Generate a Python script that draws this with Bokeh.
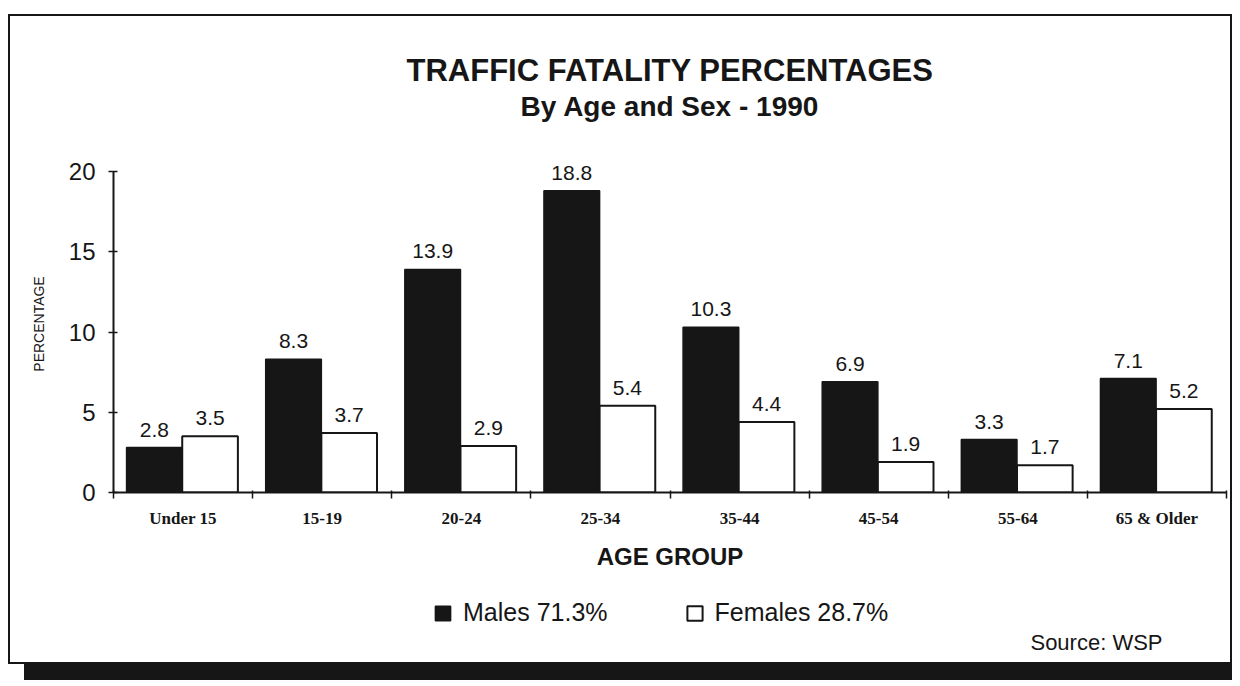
from bokeh.plotting import figure
from bokeh.layouts import column
from bokeh.models import (ColumnDataSource, FixedTicker, LabelSet, Label, Legend,
                          LegendItem, Title, Range1d)
from bokeh.core.properties import value
from bokeh.transform import dodge
from bokeh.embed import file_html
from bokeh.resources import INLINE

# ---- data ----
age_groups = ["Under 15", "15-19", "20-24", "25-34", "35-44", "45-54", "55-64", "65 & Older"]
males = [2.8, 8.3, 13.9, 18.8, 10.3, 6.9, 3.3, 7.1]
females = [3.5, 3.7, 2.9, 5.4, 4.4, 1.9, 1.7, 5.2]
y_ticks = [0, 5, 10, 15, 20]
legend_labels = ["Males 71.3%", "Females 28.7%"]
title_line1 = "TRAFFIC FATALITY PERCENTAGES"
title_line2 = "By Age and Sex - 1990"
source_note = "Source: WSP"

INK = "#161616"
SANS = "Liberation Sans"

centers = [i + 0.5 for i in range(len(age_groups))]
bounds = list(range(len(age_groups) + 1))
src = ColumnDataSource(dict(
    x=centers, group=age_groups, males=males, females=females,
    males_txt=[f"{v:.1f}" for v in males],
    females_txt=[f"{v:.1f}" for v in females],
))

p = figure(width=1220, height=574,
           x_range=Range1d(0, len(age_groups)), y_range=Range1d(0, 21),
           output_backend="svg", toolbar_location=None,
           min_border_left=103, min_border_right=4,
           min_border_top=139, min_border_bottom=98)
p.background_fill_color = "white"
p.border_fill_color = "white"
p.outline_line_color = None
p.grid.visible = False

# titles (p.title is outermost, added Title sits nearer the frame)
p.title.text = title_line1
p.title.align = "center"
p.title.text_font = SANS
p.title.text_font_size = "31px"
p.title.text_font_style = "bold"
p.title.text_color = INK
p.title.standoff = -66
t2 = Title(text=title_line2, align="center", text_font=SANS,
           text_font_size="28px", text_font_style="bold", text_color=INK, standoff=68)
p.add_layout(t2, "above")

# bars
male_x = dodge("x", -0.206, range=p.x_range)
female_x = dodge("x", 0.194, range=p.x_range)
male_r = p.vbar(x=male_x, top="males", width=0.4,
                source=src, fill_color=INK, line_color=INK, line_width=1.5)
female_r = p.vbar(x=female_x, top="females", width=0.4,
                  source=src, fill_color="white", line_color=INK, line_width=2)

lab_kw = dict(source=src, text_align="center", text_baseline="bottom", y_offset=11,
              text_font=value(SANS), text_font_size="21px", text_color=INK)
p.add_layout(LabelSet(x=male_x, y="males", text="males_txt", **lab_kw))
p.add_layout(LabelSet(x=female_x, y="females", text="females_txt", **lab_kw))

# y axis
ya = p.yaxis[0]
ya.ticker = FixedTicker(ticks=y_ticks)
ya.bounds = (0, 20)
ya.axis_line_color = INK
ya.axis_line_width = 2
ya.major_tick_line_color = INK
ya.major_tick_line_width = 1.5
ya.major_tick_in = 4
ya.major_tick_out = 5
ya.minor_tick_line_color = None
ya.major_label_text_font = SANS
ya.major_label_text_font_size = "24px"
ya.major_label_text_color = INK
ya.major_label_standoff = 13
ya.axis_label = "PERCENTAGE"
ya.axis_label_text_font = SANS
ya.axis_label_text_font_size = "14px"
ya.axis_label_text_font_style = "normal"
ya.axis_label_text_color = INK
ya.axis_label_standoff = 19

# x axis
xa = p.xaxis[0]
xa.ticker = FixedTicker(ticks=centers, minor_ticks=bounds)
xa.major_label_overrides = {c: g for c, g in zip(centers, age_groups)}
xa.bounds = (0, len(age_groups))
xa.axis_line_color = INK
xa.axis_line_width = 2
xa.major_tick_line_color = None
xa.major_tick_in = 0
xa.major_tick_out = 0
xa.minor_tick_line_color = INK
xa.minor_tick_line_width = 1.5
xa.minor_tick_in = 2
xa.minor_tick_out = 6
xa.major_label_text_font = "Liberation Serif"
xa.major_label_text_font_style = "bold"
xa.major_label_text_font_size = "17px"
xa.major_label_text_color = INK
xa.major_label_standoff = 10
xa.axis_label = "AGE GROUP"
xa.axis_label_text_font = SANS
xa.axis_label_text_font_size = "24px"
xa.axis_label_text_font_style = "bold"
xa.axis_label_text_color = INK
xa.axis_label_standoff = 12

# ---- legend strip under the chart (its frame is aligned with the chart's frame) ----
q = figure(width=1220, height=72, x_range=Range1d(0, 1), y_range=Range1d(0, 1),
           x_axis_type=None, y_axis_type=None, title=None,
           output_backend="svg", toolbar_location=None, min_border=0)
q.background_fill_color = "white"
q.border_fill_color = "white"
q.outline_line_color = None
q_male = q.vbar(x=male_x, top="males", width=0.4, source=src,
                fill_color=INK, line_color=INK, line_width=1.5, visible=False)
q_female = q.vbar(x=female_x, top="females", width=0.4, source=src,
                  fill_color="white", line_color=INK, line_width=2, visible=False)
legend = Legend(items=[LegendItem(label=legend_labels[0], renderers=[q_male]),
                       LegendItem(label=legend_labels[1], renderers=[q_female])],
                orientation="horizontal", location=(320, 35),
                glyph_width=19, glyph_height=18, label_standoff=11, spacing=77,
                label_text_font=SANS, label_text_font_size="25px",
                label_text_color=INK, padding=0, margin=0,
                border_line_color=None, background_fill_alpha=0)
q.add_layout(legend, "center")
q.add_layout(Label(x=1049, y=20, x_units="screen", y_units="screen", text=source_note,
                   text_align="right", text_baseline="middle",
                   text_font=SANS, text_font_size="22px", text_color=INK))

page = column(p, q, spacing=0)
page.styles = {"border": "2px solid #161616", "box-shadow": "8px 24px 0 -8px #161616",
               "margin-top": "14px", "margin-left": "8px", "background": "white"}

open("out.html", "w").write(file_html(page, INLINE))
